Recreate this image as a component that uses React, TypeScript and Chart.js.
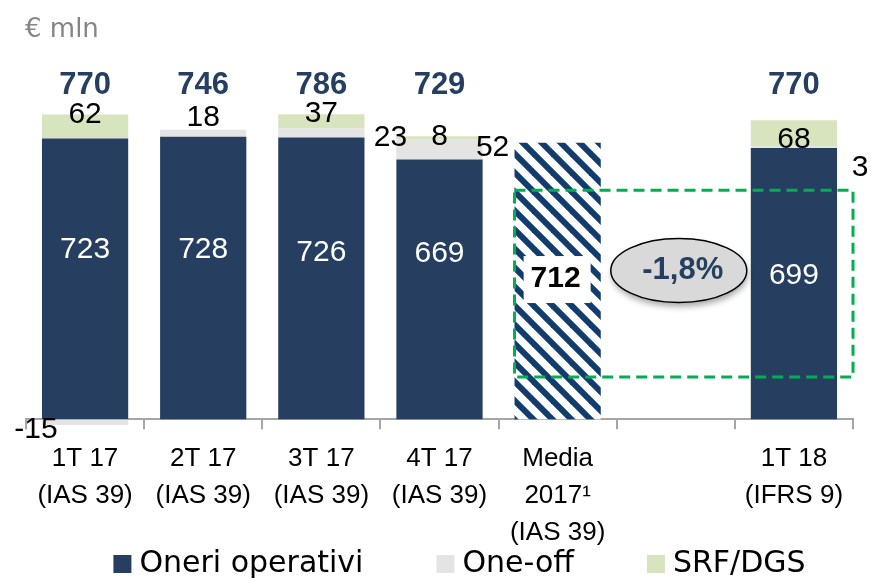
import React, { useEffect, useRef } from "react";
import { Chart, registerables } from "chart.js";

Chart.register(...registerables);

// ---- data ----
const categories: string[][] = [
  ["1T 17", "(IAS 39)"],
  ["2T 17", "(IAS 39)"],
  ["3T 17", "(IAS 39)"],
  ["4T 17", "(IAS 39)"],
  ["Media", "2017¹", "(IAS 39)"],
  [""],
  ["1T 18", "(IFRS 9)"],
];
const oneriOperativi: (number | null)[] = [723, 728, 726, 669, null, null, 699];
const oneOff: (number | null)[] = [-15, 18, 23, 52, null, null, 3];
const srfDgs: (number | null)[] = [62, null, 37, 8, null, null, 68];
const media2017: (number | null)[] = [null, null, null, null, 712, null, null];
const seriesNames = ["Oneri operativi", "One-off", "SRF/DGS"];
const changeLabel = "-1,8%";
const unitLabel = "€ mln";

// ---- styles ----
const NAVY = "#263F60";
const HATCH = "#123C6C";
const GREY = "#E4E4E4";
const GREEN = "#D7E4BD";
const AXIS = "#A6A6A6";
const NUM_FONT = '30px "Liberation Sans", Arial, sans-serif';
const BOLD_FONT = 'bold 31px "Liberation Sans", Arial, sans-serif';

function makePattern(ctx: CanvasRenderingContext2D): CanvasPattern | string {
  const s = 19;
  const c = document.createElement("canvas");
  c.width = s;
  c.height = s;
  const g = c.getContext("2d")!;
  g.fillStyle = "#fff";
  g.fillRect(0, 0, s, s);
  g.strokeStyle = HATCH;
  g.lineWidth = 6;
  for (const k of [-1, 0, 1]) {
    g.beginPath();
    g.moveTo(k * s - 3, -3);
    g.lineTo(k * s + s + 3, s + 3);
    g.stroke();
  }
  return ctx.createPattern(c, "repeat") || HATCH;
}

const overlay = {
  id: "overlay",
  afterDatasetsDraw(chart: any) {
    const { ctx, chartArea: a, scales } = chart;
    const ys = scales.y;
    const xs = scales.x;
    const bar = (d: number, i: number) => chart.getDatasetMeta(d).data[i] as any;

    const text = (t: string, x: number, y: number, font: string, color: string, align: CanvasTextAlign = "center", base: CanvasTextBaseline = "middle") => {
      ctx.save();
      ctx.font = font;
      ctx.fillStyle = color;
      ctx.textAlign = align;
      ctx.textBaseline = base;
      ctx.fillText(t, x, y);
      ctx.restore();
    };

    // unit label
    text(unitLabel, a.left - 1, a.top + 37, '26px "DejaVu Sans", sans-serif', "#858585", "left", "alphabetic");

    // inner label levels (data units) for the main series
    const innerLevel = [437, 437, 429, 427, null, null, 370];

    for (let i = 0; i < categories.length; i++) {
      const o = oneriOperativi[i];
      if (o == null) continue;
      const b0 = bar(0, i);
      const total = (o || 0) + (oneOff[i] || 0) + (srfDgs[i] || 0);
      text(String(total), b0.x, a.top + 94, BOLD_FONT, NAVY, "center", "alphabetic");
      const lv = innerLevel[i] as number;
      text(String(o), b0.x, ys.getPixelForValue(lv), NUM_FONT, "#fff");
      const left = b0.x - b0.width / 2;
      const right = b0.x + b0.width / 2;
      const oo = oneOff[i];
      if (oo != null) {
        const b1 = bar(1, i);
        const mid = (b1.y + b1.base) / 2;
        let lx = b0.x, ly = mid;
        if (i === 0) { lx = left - 6; ly = ys.getPixelForValue(0) + 10; }
        else if (i === 1) { ly = Math.min(b1.y, b1.base) - 12; }
        else if (i === 2) { lx = right + 26; ly = mid + 5; }
        else if (i === 3) { lx = right + 10; ly = mid - 2; }
        else if (i === 6) { lx = right + 23; ly = mid + 20; }
        text(String(oo), lx, ly, NUM_FONT, "#000");
      }
      const sv = srfDgs[i];
      if (sv != null) {
        const b2 = bar(2, i);
        let ly = b2.y;
        if (i === 6) ly = (b2.y + b2.base) / 2 + 6;
        text(String(sv), b0.x, ly, NUM_FONT, "#000");
      }
    }

    // media label
    const bm = bar(3, 4);
    const my = (bm.y + bm.base) / 2 - 2;
    ctx.save();
    ctx.fillStyle = "#fff";
    ctx.fillRect(bm.x - 34, my - 23, 67, 47);
    ctx.restore();
    text(String(media2017[4]), bm.x - 2, my, 'bold 30px "Liberation Sans", Arial, sans-serif', "#000");

    // dashed comparison box
    ctx.save();
    ctx.strokeStyle = "#00B050";
    ctx.lineWidth = 3;
    ctx.setLineDash([11, 6]);
    const bl = bm.x - bm.width / 2;
    const bt = ys.getPixelForValue(590);
    const bb = ys.getPixelForValue(109);
    ctx.strokeRect(bl, bt, a.right - bl, bb - bt);
    ctx.restore();

    // ellipse with change
    const ex = xs.getPixelForValue(5) + 3;
    const ey = ys.getPixelForValue(383);
    ctx.save();
    ctx.beginPath();
    ctx.ellipse(ex, ey, 68, 32, 0, 0, Math.PI * 2);
    ctx.shadowColor = "rgba(0,0,0,0.35)";
    ctx.shadowBlur = 6;
    ctx.shadowOffsetX = 1;
    ctx.shadowOffsetY = 4;
    ctx.fillStyle = "#D9D9D9";
    ctx.fill();
    ctx.shadowColor = "transparent";
    ctx.lineWidth = 1.5;
    ctx.strokeStyle = "#000";
    ctx.stroke();
    ctx.restore();
    text(changeLabel, ex + 4, ey, BOLD_FONT, NAVY);

    // legend
    const lfont = '30px "DejaVu Sans", sans-serif';
    ctx.save();
    ctx.font = lfont;
    const colors = [NAVY, GREY, GREEN];
    const widths = seriesNames.map((n) => ctx.measureText(n).width);
    const box = 18, gap = 8, spacing = 73;
    const total = widths.reduce((s, w) => s + box + gap + w, 0) + spacing * (seriesNames.length - 1);
    let lx = (a.left + a.right) / 2 + 20 - total / 2;
    const ly = chart.height - 15;
    for (let k = 0; k < seriesNames.length; k++) {
      ctx.fillStyle = colors[k];
      ctx.fillRect(lx, ly - box / 2, box, box);
      ctx.fillStyle = "#000";
      ctx.textAlign = "left";
      ctx.textBaseline = "middle";
      ctx.fillText(seriesNames[k], lx + box + gap, ly);
      lx += box + gap + widths[k] + spacing;
    }
    ctx.restore();
  },
};

export default function App() {
  const ref = useRef<HTMLCanvasElement>(null);
  useEffect(() => {
    const canvas = ref.current!;
    const ctx = canvas.getContext("2d")!;
    const pattern = makePattern(ctx);
    const chart = new Chart(canvas, {
      type: "bar",
      data: {
        labels: categories,
        datasets: [
          { label: seriesNames[0], data: oneriOperativi, backgroundColor: NAVY, stack: "s" },
          { label: seriesNames[1], data: oneOff, backgroundColor: GREY, stack: "s" },
          { label: seriesNames[2], data: srfDgs, backgroundColor: GREEN, stack: "s" },
          { label: "Media", data: media2017, backgroundColor: pattern as any, stack: "s" },
        ] as any,
      },
      options: {
        responsive: false,
        animation: false,
        devicePixelRatio: 1,
        layout: { padding: { top: 0, left: 26, right: 18, bottom: 17 } },
        datasets: { bar: { barPercentage: 0.73, categoryPercentage: 1, clip: false as any } },
        plugins: { legend: { display: false }, tooltip: { enabled: false } },
        scales: {
          x: {
            stacked: true,
            grid: { offset: true, drawOnChartArea: false, tickLength: 10, color: AXIS, lineWidth: 2 },
            border: { color: AXIS, width: 2 },
            ticks: {
              autoSkip: false,
              maxRotation: 0,
              padding: 11,
              color: "#000",
              font: { family: '"Liberation Sans", Arial, sans-serif', size: 26, lineHeight: 1.42 },
            },
          },
          y: { stacked: true, display: false, min: 0, max: 1080 },
        },
      } as any,
      plugins: [overlay],
    });
    return () => chart.destroy();
  }, []);
  return (
    <div style={{ position: "fixed", left: 0, top: 0, width: 871, height: 579, background: "#fff" }}>
      <canvas ref={ref} width={871} height={579} style={{ display: "block" }} />
    </div>
  );
}
